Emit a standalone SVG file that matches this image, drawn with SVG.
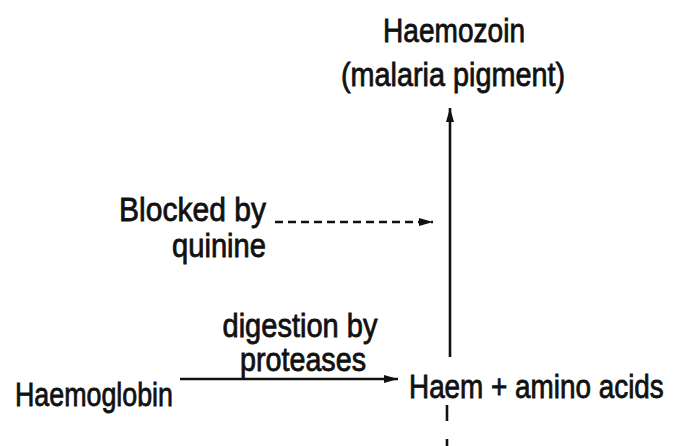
<svg xmlns="http://www.w3.org/2000/svg" width="676" height="446" viewBox="0 0 676 446">
<defs>
<style>
text{font-family:"Liberation Sans",Arial,sans-serif;font-size:33px;fill:#111;stroke:#111;stroke-width:0.8}
.ln{stroke:#111;stroke-width:2.6;fill:none}
.dash{stroke:#111;stroke-width:2.4;fill:none;stroke-dasharray:8 5}
</style>
<marker id="ah" viewBox="0 0 14 10" refX="14" refY="5" markerWidth="14" markerHeight="10" markerUnits="userSpaceOnUse" orient="auto">
<path d="M0,1 L14,5 L0,9 Z" fill="#111"/>
</marker>
</defs>
<rect width="676" height="446" fill="#fff"/>
<g id="haemozoin">
<text x="454" y="42" text-anchor="middle" textLength="142" lengthAdjust="spacingAndGlyphs">Haemozoin</text>
<text x="453" y="86" text-anchor="middle" textLength="224" lengthAdjust="spacingAndGlyphs">(malaria pigment)</text>
</g>
<g id="quinine">
<text x="266" y="221" text-anchor="end" textLength="147" lengthAdjust="spacingAndGlyphs">Blocked by</text>
<text x="266" y="257" text-anchor="end" textLength="94" lengthAdjust="spacingAndGlyphs">quinine</text>
</g>
<g id="haemoglobin">
<text x="15" y="406" textLength="158" lengthAdjust="spacingAndGlyphs">Haemoglobin</text>
</g>
<g id="haem">
<text transform="translate(409,398) scale(0.845,1)" x="0" y="0">Haem + amino acids</text>
</g>
<g id="protease-label">
<text x="300" y="337" text-anchor="middle" textLength="155" lengthAdjust="spacingAndGlyphs">digestion by</text>
<text x="303" y="371" text-anchor="middle" textLength="126" lengthAdjust="spacingAndGlyphs">proteases</text>
</g>
<g id="connectors">
<line class="ln" x1="450" y1="357" x2="450" y2="108" marker-end="url(#ah)"/>
<line class="dash" x1="275" y1="222" x2="433" y2="222" marker-end="url(#ah)"/>
<line class="ln" x1="180" y1="379" x2="398" y2="379" marker-end="url(#ah)"/>
<line class="ln" x1="447" y1="405" x2="447" y2="421"/>
<line class="ln" x1="447" y1="439" x2="447" y2="446"/>
</g>
</svg>
